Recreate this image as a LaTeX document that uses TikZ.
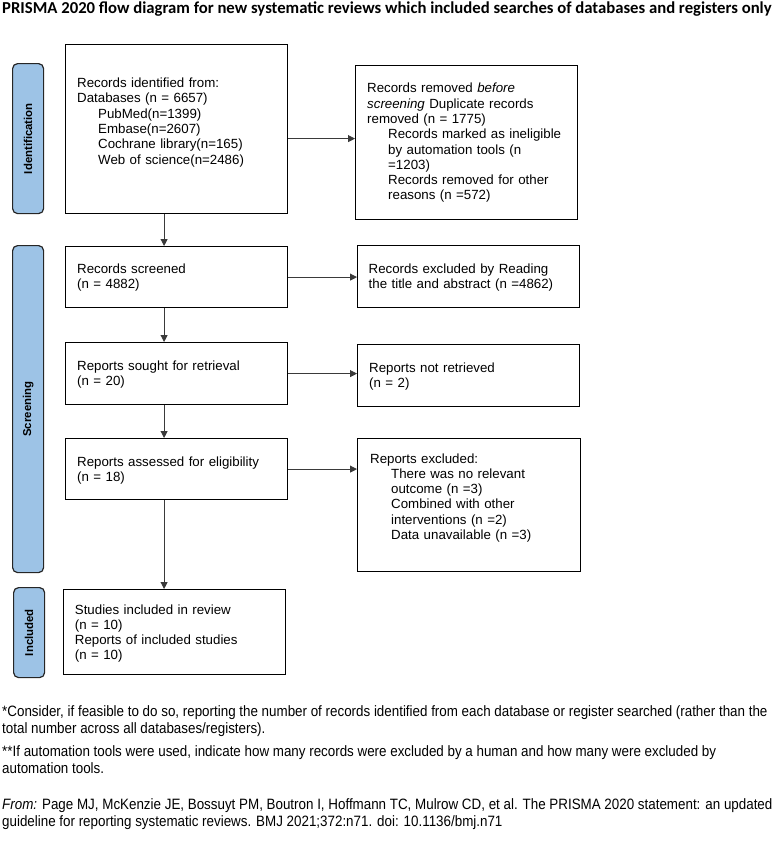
\documentclass[tikz,border=0pt]{standalone}
\usepackage{fontspec}
\setmainfont{Liberation Sans}
\newfontfamily\titlefont{Carlito}
\newfontfamily\narrowfont[FakeStretch=0.892]{Liberation Sans}
\usetikzlibrary{arrows.meta,positioning}
\definecolor{labelblue}{HTML}{9DC3E6}
\definecolor{linegray}{HTML}{3A3A3A}
\newcommand{\indt}{\hspace*{21pt}}
\tikzset{
  box/.style={draw=black, line width=1.2pt, rectangle, anchor=north west, inner sep=0pt},
  txt/.style={anchor=base west, inner sep=0pt, align=left, text width=215pt,
    font=\fontsize{13.3pt}{15.3pt}\selectfont},
  lab/.style={draw=black!85, line width=1.2pt, fill=labelblue, rounded corners=5pt,
    anchor=north west, inner sep=0pt, minimum width=31pt},
  labtxt/.style={rotate=90, font=\fontsize{11.4pt}{13pt}\selectfont\bfseries, inner sep=0pt},
  arr/.style={draw=linegray, line width=0.9pt, -{Triangle[length=7pt,width=7pt]}},
  foot/.style={anchor=base west, inner sep=0pt, font=\narrowfont\fontsize{15pt}{17pt}\selectfont}
}
\begin{document}
\begin{tikzpicture}[x=1pt,y=-1pt]
\useasboundingbox (0,0) rectangle (778,855);
% title
\node[anchor=base west, inner sep=0pt, font=\titlefont\bfseries\fontsize{16.7pt}{19pt}\selectfont] (title) at (2,13)
  {PRISMA 2020 flow diagram for new systematic reviews which included searches of databases and registers only};
% side labels
\node[lab, minimum height=150pt] (idl) at (12,63) {};
\node[labtxt] (idlt) at (idl.center) {Identification};
\node[lab, minimum height=327pt] (scl) at (12,245) {};
\node[labtxt] (sclt) at (scl.center) {Screening};
\node[lab, minimum height=90pt] (inl) at (13,587) {};
\node[labtxt] (inlt) at (inl.center) {Included};
% left boxes
\node[box, minimum width=222pt, minimum height=169pt] (id) at (65,44) {};
\node[box, minimum width=222pt, minimum height=61pt] (scr) at (65,246) {};
\node[box, minimum width=222pt, minimum height=62pt] (soug) at (65,342) {};
\node[box, minimum width=222pt, minimum height=61pt] (ass) at (65,438) {};
\node[box, minimum width=222pt, minimum height=85pt] (inc) at (63,589) {};
% right boxes
\node[box, minimum width=222pt, minimum height=154pt] (rem) at (355,65) {};
\node[box, minimum width=222pt, minimum height=62pt] (exc) at (357,245) {};
\node[box, minimum width=222pt, minimum height=62pt] (nr) at (357,344) {};
\node[box, minimum width=223pt, minimum height=133pt] (rex) at (357,438) {};
% texts
\node[txt] (idt) at (77,87.5) {Records identified from:\\Databases (n = 6657)\\\indt PubMed(n=1399)\\\indt Embase(n=2607)\\\indt Cochrane library(n=165)\\\indt Web of science(n=2486)};
\node[txt] (remt) at (367,92.8) {Records removed \textit{before}\\\textit{screening} Duplicate records\\removed (n = 1775)\\\indt Records marked as ineligible\\\indt by automation tools (n\\\indt =1203)\\\indt Records removed for other\\\indt reasons (n =572)};
\node[txt] (scrt) at (77,273.5) {Records screened\\(n = 4882)};
\node[txt] (exct) at (368.5,273.5) {Records excluded by Reading\\the title and abstract (n =4862)};
\node[txt] (sougt) at (77,370) {Reports sought for retrieval\\(n = 20)};
\node[txt] (nrt) at (369,372) {Reports not retrieved\\(n = 2)};
\node[txt] (asst) at (77,466) {Reports assessed for eligibility\\(n = 18)};
\node[txt] (rext) at (370,463) {Reports excluded:\\\indt There was no relevant\\\indt outcome (n =3)\\\indt Combined with other\\\indt interventions (n =2)\\\indt Data unavailable (n =3)};
\node[txt] (inct) at (74.7,614) {Studies included in review\\(n = 10)\\Reports of included studies\\(n = 10)};
% arrows
\draw[arr] ([xshift=-12.5pt]id.south) -- ([xshift=-12.5pt]id.south |- scr.north);
\draw[arr] ([xshift=-12.5pt]scr.south) -- ([xshift=-12.5pt]scr.south |- soug.north);
\draw[arr] ([xshift=-12.5pt]soug.south) -- ([xshift=-12.5pt]soug.south |- ass.north);
\draw[arr] ([xshift=-12.5pt]ass.south) -- ([xshift=-12.5pt]ass.south |- inc.north);
\draw[arr] ([yshift=4pt]rem.west -| id.east) -- ([yshift=4pt]rem.west);
\draw[arr] (scr.east) -- (scr.east -| exc.west);
\draw[arr] (soug.east) -- (soug.east -| nr.west);
\draw[arr] (ass.east) -- (ass.east -| rex.west);
% footnotes
\node[foot] (f1) at (2,716) {*Consider, if feasible to do so, reporting the number of records identified from each database or register searched (rather than the};
\node[foot] (f2) at (2,733) {total number across all databases/registers).};
\node[foot] (f3) at (2,756) {**If automation tools were used, indicate how many records were excluded by a human and how many were excluded by};
\node[foot] (f4) at (2,773) {automation tools.};
\node[foot] (f5) at (2,809) {\textit{From:}\hspace{5pt}Page MJ, McKenzie JE, Bossuyt PM, Boutron I, Hoffmann TC, Mulrow CD, et al. The PRISMA 2020 statement: an updated};
\node[foot] (f6) at (2,826) {guideline for reporting systematic reviews. BMJ 2021;372:n71. doi: 10.1136/bmj.n71};
\end{tikzpicture}
\end{document}
